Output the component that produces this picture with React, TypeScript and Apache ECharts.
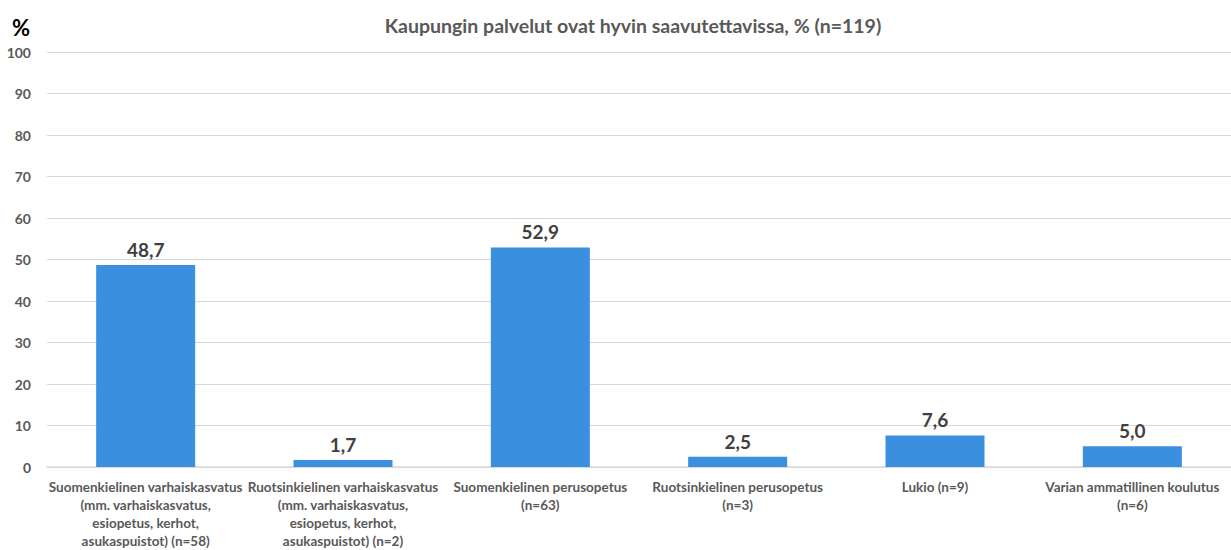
import React, { useEffect, useRef } from "react";
import * as echarts from "echarts";

const title = "Kaupungin palvelut ovat hyvin saavutettavissa, % (n=119)";
const categories = [
  "Suomenkielinen varhaiskasvatus\n(mm. varhaiskasvatus,\nesiopetus, kerhot,\nasukaspuistot) (n=58)",
  "Ruotsinkielinen varhaiskasvatus\n(mm. varhaiskasvatus,\nesiopetus, kerhot,\nasukaspuistot) (n=2)",
  "Suomenkielinen perusopetus\n(n=63)",
  "Ruotsinkielinen perusopetus\n(n=3)",
  "Lukio (n=9)",
  "Varian ammatillinen koulutus\n(n=6)",
];
const values = [48.7, 1.7, 52.9, 2.5, 7.6, 5.0];

const FONT = "Lato, 'Open Sans', sans-serif";

export default function App() {
  const ref = useRef<HTMLDivElement>(null);
  useEffect(() => {
    document.body.style.margin = "0";
    if (!ref.current) return;
    const chart = echarts.init(ref.current, null, { renderer: "svg" });
    chart.setOption({
      animation: false,
      textStyle: { fontFamily: FONT },
      title: {
        text: title,
        left: 628,
        top: 10,
        textAlign: "center",
        textStyle: { fontSize: 19.5, fontWeight: "bold", color: "#595959", fontFamily: FONT },
      },
      graphic: [
        {
          type: "text",
          left: 12,
          top: 16,
          style: { text: "%", fontSize: 22, fontWeight: "bold", fill: "#000", fontFamily: FONT },
        },
      ],
      grid: { left: 47, width: 1194, top: 52, height: 419, containLabel: false },
      xAxis: {
        type: "category",
        data: categories,
        axisLine: { show: true, lineStyle: { color: "#d9d9d9", width: 1.5 } },
        axisTick: { show: false },
        axisLabel: {
          interval: 0,
          hideOverlap: false,
          margin: 11,
          fontSize: 13.5,
          fontWeight: "bold",
          color: "#595959",
          lineHeight: 18,
          fontFamily: FONT,
        },
      },
      yAxis: {
        type: "value",
        min: 0,
        max: 100,
        interval: 10,
        axisLine: { show: false },
        axisTick: { show: false },
        splitLine: { lineStyle: { color: "#d9d9d9", width: 1 } },
        axisLabel: {
          margin: 16,
          fontSize: 14,
          fontWeight: "bold",
          color: "#595959",
          fontFamily: FONT,
        },
      },
      series: [
        {
          type: "bar",
          data: values,
          barWidth: 99,
          itemStyle: { color: "#3b8fdf" },
          label: {
            show: true,
            position: "top",
            distance: 6,
            fontSize: 19,
            fontWeight: "bold",
            color: "#404040",
            fontFamily: FONT,
            formatter: (p: any) => p.value.toFixed(1).replace(".", ","),
          },
        },
      ],
    });
    return () => chart.dispose();
  }, []);
  return <div ref={ref} style={{ width: 1231, height: 550, background: "#fff" }} />;
}
